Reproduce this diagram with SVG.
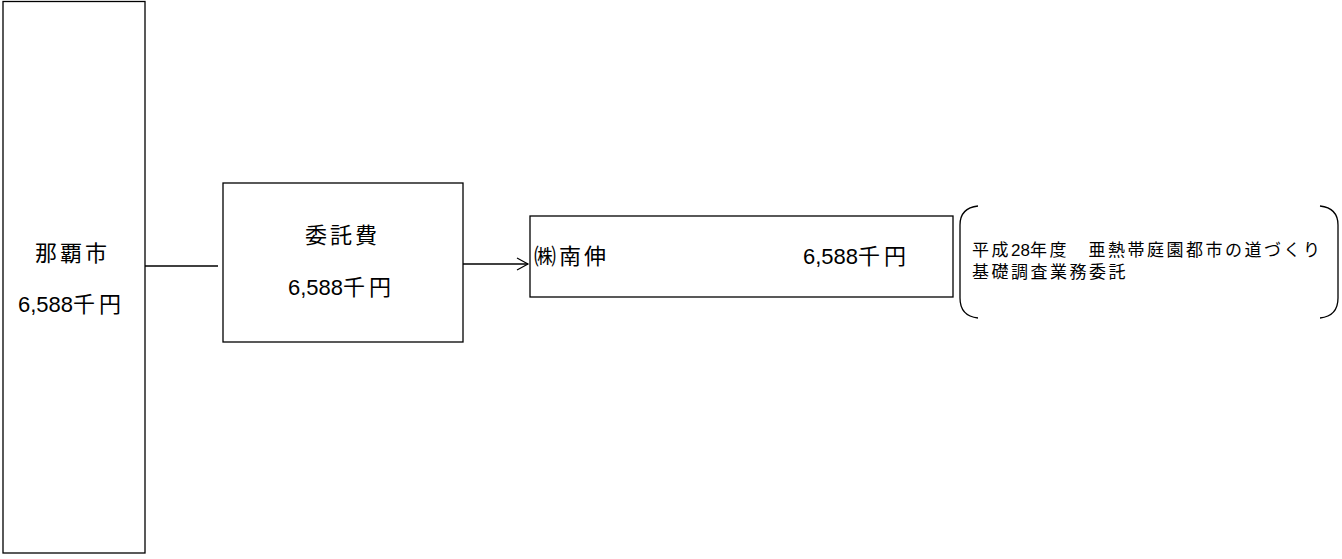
<svg xmlns="http://www.w3.org/2000/svg" width="1342" height="559" viewBox="0 0 1342 559">
<style>
.box{fill:#fff;stroke:#000;stroke-width:1.3}
.t{font-family:"Liberation Sans","Noto Sans CJK JP",sans-serif;fill:#000}
.l{font-size:22px;letter-spacing:3px}
.d{letter-spacing:0}
.k{letter-spacing:4px}
.s{font-size:17px;letter-spacing:2.5px}
.c{stroke:#000;stroke-width:1.3;fill:none}
</style>
<defs>
<marker id="arr" markerWidth="14" markerHeight="14" refX="12" refY="7" orient="auto" markerUnits="userSpaceOnUse">
<path d="M1,1 L12,7 L1,13" fill="none" stroke="#000" stroke-width="1.2"/>
</marker>
</defs>
<rect width="1342" height="559" fill="#fff"/>
<g id="connectors">
<line class="c" x1="145" y1="266" x2="218" y2="266"/>
<line class="c" x1="463" y1="264" x2="528" y2="264" marker-end="url(#arr)"/>
</g>
<g id="naha">
<rect class="box" x="3" y="1.5" width="142" height="551.5"/>
<text class="t l" x="35" y="261">那覇市</text>
<text class="t l" x="18" y="312"><tspan class="d">6,588</tspan><tspan class="k">千円</tspan></text>
</g>
<g id="itakuhi">
<rect class="box" x="223" y="183" width="240" height="159"/>
<text class="t l" x="305" y="243">委託費</text>
<text class="t l" x="288" y="295"><tspan class="d">6,588</tspan><tspan class="k">千円</tspan></text>
</g>
<g id="nanshin">
<rect class="box" x="530" y="216" width="423" height="81"/>
<text class="t l" x="534" y="264">㈱南伸</text>
<text class="t l" x="803" y="264"><tspan class="d">6,588</tspan><tspan class="k">千円</tspan></text>
</g>
<g id="note">
<path class="c" d="M978,206 Q960,208 960,225 L960,298 Q960,316 978,318"/>
<path class="c" d="M1320,206 Q1338,208 1338,225 L1338,298 Q1338,316 1320,318"/>
<text class="t s" x="972" y="256">平成<tspan letter-spacing="0">28</tspan>年度　亜熱帯庭園都市の道づくり</text>
<text class="t s" x="972" y="278">基礎調査業務委託</text>
</g>
</svg>
